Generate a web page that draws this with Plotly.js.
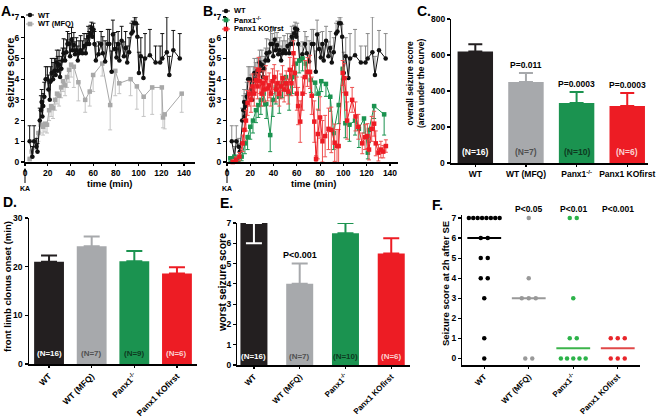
<!DOCTYPE html>
<html><head><meta charset="utf-8">
<script src="https://cdn.plot.ly/plotly-3.0.1.min.js"></script>
<style>html,body{margin:0;padding:0;background:#fff}#chart{width:661px;height:418px}</style>
</head><body><div id="chart"></div>
<script>
// ---------- DATA ----------
const timeTicks = [0,20,40,60,80,100,120,140];
const categories = ["WT", "WT (MFQ)", "Panx1<sup>-/-</sup>", "Panx1 KOfirst"];

const wtT = [4.1,6.5,8,10,11,13,14,14.7,15.3,16,17,18.2,19.7,20.6,21.8,22.6,23.5,24.7,25.9,27,28,28.8,30,30.9,32,33,34,35.3,36.5,37.4,38.8,39.7,41,41.8,43,44,45.3,46.5,47.6,49,50.6,52,53.5,54.4,55.6,56.5,57.6,58.5,59.4,60.3,61.2,62.4,64.7,67,68.5,70.6,72.9,74.3,76.3,77.4,79.1,80.6,82,83.1,85.1,87.1,88.6,90,91.7,93.7,94.9,96.3,97.7,98.9,100.3,102,104.3,105.7,110,115,119,120.9,124.9,127.1,130.6,136.3];
const wtY = [1.0,0.25,1.0,0.74,0.5,2.0,2.5,2.9,2.2,2.7,3.15,4.0,4.0,3.5,3.0,3.9,4.3,4.0,4.4,4.2,4.8,4.4,4.7,4.1,4.5,4.9,5.25,4.9,5.3,5.7,5.7,5.1,5.9,5.4,5.65,5.2,5.4,4.9,5.25,5.4,5.25,5.6,5.25,5.7,6.05,5.7,6.2,6.45,6.05,6.4,5.7,4.9,5.2,5.7,5.25,4.85,5.7,5.7,4.36,6.15,5.45,5.05,5.7,4.9,5.85,5.1,5.5,4.8,5.3,6.2,6.3,6.7,6.7,6.05,4.3,5.1,4.05,5.0,5.15,4.8,4.8,5.0,5.3,4.2,5.4,5.0];
const wtE = [0.75,0.5,0.75,0.4,0.4,0.6,0.7,0.6,0.7,0.6,0.7,0.6,0.6,0.7,0.8,0.7,0.7,0.8,0.6,0.8,0.6,0.7,0.7,0.8,0.6,0.6,0.7,0.6,0.6,0.6,0.5,0.7,0.6,0.6,0.6,0.6,0.6,0.7,0.6,0.7,0.6,0.6,0.7,0.5,0.5,0.6,0.4,0.3,0.5,0.3,0.6,0.7,0.6,0.6,0.8,1.0,0.7,0.7,1.0,0.7,0.8,0.7,0.6,0.8,0.7,0.7,0.8,0.8,0.7,0.5,0.5,0.3,0.3,0.6,1.0,0.9,1.0,1.2,1.25,0.8,0.8,1.2,1.7,0.9,0.95,1.2];

const mfqT = [4.1,5.9,9.4,11.8,13.8,15.9,17.6,19.4,21.2,23,24.7,26.5,28.2,30,31.8,33.5,35.3,37,38.8,40.6,43,47,53,57,60,68,75,79.5,83,93,98.5,104.5,112,120.5,121.5,123,138];
const mfqY = [0.15,0.5,1.0,1.4,1.8,1.7,1.85,1.8,2.5,2.7,2.6,3.0,3.3,3.2,3.6,3.9,3.7,4.1,4.45,4.7,4.6,3.85,3.0,3.4,4.2,4.75,2.75,4.4,3.8,4.0,3.65,3.15,3.6,3.6,2.15,2.3,3.3];
const mfqE = [0.1,0.3,0.4,0.4,0.4,0.4,0.4,0.4,0.5,0.5,0.5,0.5,0.5,0.5,0.5,0.5,0.5,0.5,0.6,0.6,1.0,0.9,0.6,0.7,0.8,0.6,1.2,1.2,0.5,0.8,1.1,0.95,1.3,1.3,0.5,0.7,0.9];

const pxT = [2.9,6.3,9.7,12.6,15.4,17.7,20,22.3,24.9,26.9,29.1,31.4,33.7,37.1,39.4,42,44.9,47.7,50.6,53.4,56.3,59.1,62,64.9,67.7,72,75.7,78.6,81,85,88.7,91.6,96,99.4,101.7,105.2,110,113.3,117.7,121,122,126.4,135];
const pxY = [0.18,0.26,0.1,0.26,0.9,1.2,1.7,2.0,2.5,2.75,3.0,3.3,2.8,1.3,3.0,3.6,3.15,3.8,4.1,3.3,4.1,4.75,4.9,5.0,4.75,3.96,3.83,3.3,3.9,3.77,3.15,1.4,2.75,4.5,1.87,1.8,2.0,1.6,2.1,0.45,1.55,2.7,2.3];
const pxE = [0.15,0.2,0.1,0.2,0.5,0.6,0.6,0.6,0.6,0.6,0.7,0.6,0.7,0.8,0.8,0.8,0.8,0.7,0.7,0.8,0.8,0.6,0.6,0.6,0.7,0.6,0.6,0.8,0.5,0.6,0.7,0.8,0.9,0.5,0.7,0.8,0.7,0.9,0.7,0.3,0.6,0.6,1.0];

const koT = [4.9,7.7,10.6,13.4,14.9,16.3,17.7,19.1,20.6,22,23.4,24.9,26.3,27.1,28.3,29.7,30.9,32,33.4,34.9,36.3,37.7,39.1,40.6,42,43.4,44.9,46.3,47.7,49.1,50.9,52.6,54,55.4,57.1,58.3,60,61.1,62.9,64.9,66.9,69.1,71.3,72.8,75,76.5,78,80,82,84.3,87.2,89.6,92.5,94.5,95.9,99.4,100.6,102.3,103.2,107.5,110.4,112.8,116.2,118.6,120.6,122,124.3,126.4,127.8,130.1,132.2,134.2,136.5];
const koY = [0.0,0.1,0.26,0.9,1.55,2.0,2.85,3.3,3.0,3.65,3.3,3.95,3.65,4.45,3.9,3.3,3.8,3.5,4.05,3.55,3.7,3.3,3.9,4.1,3.5,3.8,3.3,3.65,4.05,3.5,3.8,3.4,4.45,3.8,5.25,4.3,3.3,2.7,1.95,3.3,4.1,4.35,4.35,3.2,1.95,0.15,1.35,2.15,1.0,1.25,1.6,1.55,0.93,0.77,0.77,4.3,4.05,3.3,2.0,3.0,2.2,1.7,0.9,1.2,1.25,0.6,1.6,1.85,0.9,0.45,0.6,0.5,0.77];
const koE = [0.1,0.15,0.2,0.4,0.5,0.5,0.6,0.6,0.6,0.6,0.6,0.6,0.6,0.6,0.6,0.6,0.6,0.6,0.6,0.6,0.6,0.6,0.6,0.6,0.6,0.6,0.6,0.6,0.6,0.6,0.6,0.6,0.6,0.6,0.6,0.7,0.8,0.9,1.0,0.8,0.8,0.7,0.8,0.9,1.0,0.15,1.2,1.0,1.0,1.0,1.0,1.1,0.9,0.8,0.8,0.6,0.7,0.8,0.9,0.6,0.7,0.6,0.5,0.6,0.6,0.5,0.6,0.6,0.6,0.4,0.4,0.3,0.3];

const aucMean = [620, 450, 333, 317];
const aucErr  = [40, 50, 62, 72];
const aucN    = ["(N=16)", "(N=7)", "(N=10)", "(N=6)"];
const aucP    = ["", "P=0.011", "P=0.0003", "P=0.0003"];
const aucTicks = [0, 200, 400, 600, 800];

const onsetMean = [21.0, 24.2, 21.1, 18.6];
const onsetErr  = [1.3, 2.0, 2.1, 1.3];
const onsetN    = ["(N=16)", "(N=7)", "(N=9)", "(N=6)"];
const onsetTicks = [0, 10, 20, 30];

const worstMean = [7, 4, 6.5, 5.5];
const worstErrUp = [0, 1, 0.5, 0.75];
const worstErrDown = [1, 0, 0, 0];
const worstN = ["(N=16)", "(N=7)", "(N=10)", "(N=6)"];
const worstP = ["", "P<0.001", "", ""];

const scoreWT   = [7,7,7,7,7,7,7,7,6,6,5,5,4,4,3,1,0];
const scoreMFQ  = [7,4,3,3,3,0,0];
const scorePanx = [7,7,3,1,1,0,0,0,0,0];
const scoreKO   = [1,1,1,0,0,0];
const scoreP    = ["", "P<0.05", "P<0.01", "P<0.001"];
const scoreTicks = [0,1,2,3,4,5,6,7];

// ---------- STYLE / LAYOUT ----------
const W = 661, H = 418;
const px = x => x / W, py = y => 1 - y / H;
const FF = "Liberation Sans, Arial, sans-serif";
const barColors = ['#231f20', '#a7a9ac', '#1b9350', '#ed1c24'];
const nColors = ['#ffffff', '#505050', '#0d3a1f', '#fbd0d0'];
const dotColors = ['#000000', '#999999', '#2db34a', '#e8262b'];
const medColors = ['#000000', '#999999', '#3cb44b', '#e04848'];

function ax(domain, range, extra) {
  return Object.assign({
    domain, range, showline: true, linecolor: '#000', linewidth: 1.5,
    ticks: 'outside', ticklen: 2.5, tickwidth: 1.2, tickcolor: '#000',
    showgrid: false, zeroline: false, fixedrange: true, ticklabeloverflow: 'allow',
    tickfont: {family: FF, size: 8.5, weight: 'bold', color: '#000'}
  }, extra);
}
function ann(text, x, y, o) {
  o = Object.assign({}, o || {});
  const f = {family: FF, size: o.size || 9, weight: 'bold', color: o.color || '#000'};
  delete o.size; delete o.color;
  return Object.assign({text, xref: 'paper', yref: 'paper', x: px(x), y: py(y), showarrow: false,
    font: f, xanchor: 'center', yanchor: 'middle'}, o);
}

const traces = [], annotations = [], shapes = [];
const zeros = n => new Array(n).fill(0);

function ts(t, y, eUp, eDn, color, symbol, xa, ya, ecolor) {
  traces.push({type: 'scatter', mode: 'lines+markers', x: t, y: y, xaxis: xa, yaxis: ya,
    cliponaxis: false, hoverinfo: 'skip',
    line: {color: color, width: 1},
    marker: {color: color, size: 4.5, symbol: symbol},
    error_y: {type: 'data', symmetric: false, array: eUp, arrayminus: eDn,
      color: ecolor || color, thickness: 1, width: 2}});
}
ts(mfqT, mfqY, zeros(mfqT.length), mfqE, '#a8a8a8', 'square', 'x', 'y', '#c4c4c4');
ts(wtT, wtY, wtE, zeros(wtT.length), '#111', 'circle', 'x', 'y', '#111');
ts(wtT, wtY, wtE, zeros(wtT.length), '#111', 'circle', 'x2', 'y2', '#8a8a8a');
ts(pxT, pxY, zeros(pxT.length), pxE, '#1b9350', 'square', 'x2', 'y2', '#1b9350');
ts(koT, koY, koE, koE, '#ed1c24', 'square', 'x2', 'y2', '#ee5050');

function bars(vals, up, dn, xa, ya, width, capw, errColors) {
  vals.forEach((v, i) => {
    traces.push({type: 'bar', x: [i], y: [v], width: width, xaxis: xa, yaxis: ya,
      hoverinfo: 'skip', marker: {color: barColors[i], line: {width: 0}},
      error_y: {type: 'data', symmetric: false, array: [up[i]], arrayminus: [dn[i]],
        color: errColors ? errColors[i] : barColors[i], thickness: 2, width: capw}});
  });
}
bars(aucMean, aucErr, zeros(4), 'x3', 'y3', 0.7, 7);
bars(onsetMean, onsetErr, zeros(4), 'x4', 'y4', 0.7, 8);
bars(worstMean, worstErrUp, worstErrDown, 'x5', 'y5', 0.59, 8, ['#ffffff', barColors[1], barColors[2], barColors[3]]);

aucN.forEach((t, i) => annotations.push({text: t, xref: 'x3', yref: 'y3', x: i, y: 60, showarrow: false,
  font: {family: FF, size: 8.5, weight: 'bold', color: nColors[i]}}));
aucP.forEach((t, i) => { if (t) annotations.push({text: t, xref: 'x3', yref: 'y3', x: i, y: aucMean[i] + aucErr[i],
  yanchor: 'bottom', yshift: 1, showarrow: false, font: {family: FF, size: 8.5, weight: 'bold', color: '#000'}}); });
onsetN.forEach((t, i) => annotations.push({text: t, xref: 'x4', yref: 'y4', x: i, y: 2.1, showarrow: false,
  font: {family: FF, size: 8, weight: 'bold', color: nColors[i]}}));
worstN.forEach((t, i) => annotations.push({text: t, xref: 'x5', yref: 'y5', x: i, y: 0.42, showarrow: false,
  font: {family: FF, size: 8, weight: 'bold', color: nColors[i]}}));
worstP.forEach((t, i) => { if (t) annotations.push({text: t, xref: 'x5', yref: 'y5', x: i, y: worstMean[i] + worstErrUp[i],
  yanchor: 'bottom', yshift: 2, showarrow: false, font: {family: FF, size: 9, weight: 'bold', color: '#000'}}); });

// y tick labels of panels C and D, placed on their own axes' scales
aucTicks.forEach(v => annotations.push({text: String(v), xref: 'paper', x: px(446.5), xanchor: 'right',
  yref: 'y3', y: v, yanchor: 'middle', showarrow: false, font: {family: FF, size: 8.5, weight: 'bold', color: '#000'}}));
onsetTicks.forEach(v => annotations.push({text: String(v), xref: 'paper', x: px(25), xanchor: 'right',
  yref: 'y4', y: v, yanchor: 'middle', showarrow: false, font: {family: FF, size: 8.5, weight: 'bold', color: '#000'}}));

const groups = [scoreWT, scoreMFQ, scorePanx, scoreKO];
const unitPx = 178 / 4;
groups.forEach((g, gi) => {
  const counts = {}, seen = {};
  g.forEach(v => counts[v] = (counts[v] || 0) + 1);
  const xs = g.map(v => {
    const n = counts[v]; const k = seen[v] = (seen[v] === undefined ? 0 : seen[v] + 1);
    const sp = n > 5 ? 4.4 : (n > 3 ? 6.2 : 7);
    return gi + (k - (n - 1) / 2) * sp / unitPx;
  });
  traces.push({type: 'scatter', mode: 'markers', x: xs, y: g, xaxis: 'x6', yaxis: 'y6', cliponaxis: false,
    hoverinfo: 'skip', marker: {color: dotColors[gi], size: 4.5}});
  const s = g.slice().sort((a, b) => a - b), m = s.length;
  const med = m % 2 ? s[(m - 1) / 2] : (s[m / 2 - 1] + s[m / 2]) / 2;
  traces.push({type: 'scatter', mode: 'lines', x: [gi - 0.38, gi + 0.38], y: [med, med], xaxis: 'x6', yaxis: 'y6',
    hoverinfo: 'skip', line: {color: medColors[gi], width: 2}});
});
scoreP.forEach((t, i) => { if (t) annotations.push({text: t, xref: 'x6', yref: 'paper', x: i, y: py(209), showarrow: false,
  font: {family: FF, size: 8.5, weight: 'bold', color: '#000'}}); });

[['A.', 8, 11], ['B.', 210, 11], ['C.', 424, 11], ['D.', 10, 202], ['E.', 226, 203], ['F.', 437, 205]]
  .forEach(l => annotations.push(ann(l[0], l[1], l[2], {size: 14})));

annotations.push(Object.assign(ann('seizure score', 10, 73, {size: 11}), {textangle: -90}));
annotations.push(Object.assign(ann('seizure score', 211, 73, {size: 11}), {textangle: -90}));
annotations.push(ann('time (min)', 110, 183, {size: 9.5}));
annotations.push(ann('time (min)', 313, 183, {size: 9.5}));
annotations.push(Object.assign(ann('overall seizure score<br>(area under the curve)', 416, 84, {size: 8.5}), {textangle: -90}));
annotations.push(Object.assign(ann('front limb clonus onset (min)', 7, 287, {size: 9.5}), {textangle: -90}));
annotations.push(Object.assign(ann('worst seizure score', 222, 283, {size: 10.5}), {textangle: -90}));
annotations.push(Object.assign(ann('Seizure score at 2h after SE', 445, 284, {size: 9.5}), {textangle: -90}));

['x', 'x2'].forEach(xr => annotations.push({text: 'KA', xref: xr, yref: 'paper', x: 0, y: py(168), ax: 0, ay: 20,
  showarrow: true, arrowhead: 2, arrowsize: 0.7, arrowwidth: 1, arrowcolor: '#000', standoff: 0,
  font: {family: FF, size: 7, weight: 'bold', color: '#000'}}));

function legendRow(x, y, color, sym, label) {
  shapes.push({type: 'line', xref: 'paper', yref: 'paper', x0: px(x - 4), x1: px(x + 4), y0: py(y), y1: py(y),
    line: {color: color, width: 1}});
  const r = 2.3;
  shapes.push({type: sym === 'circle' ? 'circle' : 'rect', xref: 'paper', yref: 'paper',
    x0: px(x - r), x1: px(x + r), y0: py(y + r), y1: py(y - r), fillcolor: color, line: {width: 0}});
  annotations.push(ann(label, x + 6, y, {size: 7.5, xanchor: 'left'}));
}
legendRow(30, 15, '#111', 'circle', 'WT');
legendRow(30, 24, '#a8a8a8', 'square', 'WT (MFQ)');
legendRow(226, 11, '#111', 'circle', 'WT');
legendRow(226, 20, '#1b9350', 'square', 'Panx1<sup>-/-</sup>');
legendRow(226, 29, '#ed1c24', 'square', 'Panx1 KOfirst');

const catTick = {tickvals: [0, 1, 2, 3], ticktext: categories};
const layout = {
  width: W, height: H, margin: {l: 0, r: 0, t: 0, b: 0},
  paper_bgcolor: '#fff', plot_bgcolor: 'rgba(0,0,0,0)', showlegend: false, barmode: 'overlay',
  font: {family: FF, size: 9, color: '#000'},
  xaxis:  ax([px(25), px(195)], [0, 149.7], {anchor: 'y', tickmode: 'array', tickvals: timeTicks}),
  yaxis:  ax([py(162), py(17)], [0, 7], {anchor: 'x', dtick: 1, tick0: 0}),
  xaxis2: ax([px(227), px(398)], [0, 146.9], {anchor: 'y2', tickmode: 'array', tickvals: timeTicks}),
  yaxis2: ax([py(162), py(17)], [0, 7], {anchor: 'x2', dtick: 1, tick0: 0}),
  xaxis3: ax([px(451), px(648)], [-0.48, 3.41], Object.assign({anchor: 'y3', tickmode: 'array', tickangle: 0, tickfont: {family: FF, size: 8.5, weight: 'bold', color: '#000'}}, catTick)),
  yaxis3: ax([py(163), py(19)], [0, 800], {anchor: 'x3', tickmode: 'array', tickvals: aucTicks, showticklabels: false}),
  xaxis4: ax([px(29), px(197)], [-0.47, 3.47], Object.assign({anchor: 'y4', tickmode: 'array', tickangle: -45, tickfont: {family: FF, size: 8.5, weight: 'bold', color: '#000'}}, catTick)),
  yaxis4: ax([py(364), py(218)], [0, 30], {anchor: 'x4', tickmode: 'array', tickvals: onsetTicks, showticklabels: false}),
  xaxis5: ax([px(237), px(410)], [-0.37, 3.41], Object.assign({anchor: 'y5', tickmode: 'array', tickangle: -45, tickfont: {family: FF, size: 8, weight: 'bold', color: '#000'}}, catTick)),
  yaxis5: ax([py(365), py(223)], [0, 7], {anchor: 'x5', dtick: 1, tick0: 0}),
  xaxis6: ax([px(462), px(640)], [-0.5, 3.5], Object.assign({anchor: 'y6', tickmode: 'array', tickangle: -45, tickfont: {family: FF, size: 8, weight: 'bold', color: '#000'}}, catTick)),
  yaxis6: ax([py(365), py(215)], [-0.33, 7.15], {anchor: 'x6', tickmode: 'array', tickvals: scoreTicks}),
  annotations: annotations, shapes: shapes
};
Plotly.newPlot('chart', traces, layout, {staticPlot: true, displayModeBar: false});
</script></body></html>
